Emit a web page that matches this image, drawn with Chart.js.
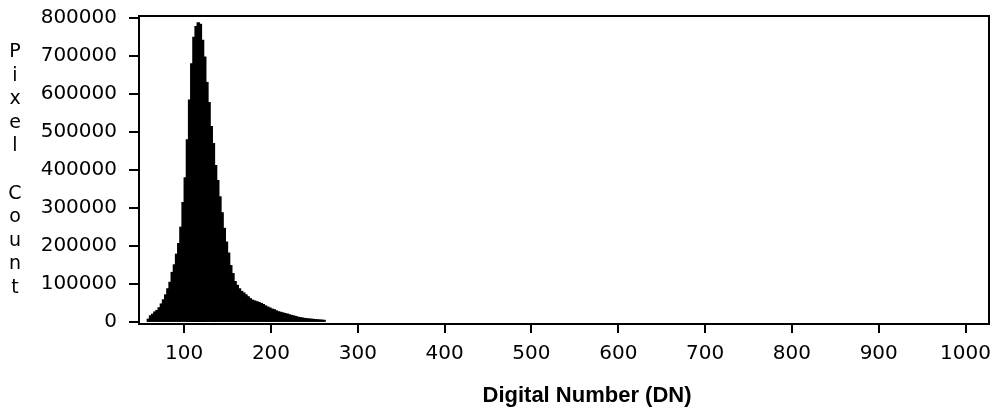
<!DOCTYPE html>
<html>
<head>
<meta charset="utf-8">
<script src="https://cdn.jsdelivr.net/npm/chart.js@4.4.1/dist/chart.umd.min.js"></script>
<style>
  html, body { margin: 0; padding: 0; background: #fff; }
  #wrap { position: relative; width: 1000px; height: 410px; }
  #c { position: absolute; left: 0; top: 0; }
  .ytitle { position: absolute; left: 4px; top: 39px; width: 22px; text-align: center;
            font: 19px "DejaVu Sans", sans-serif; line-height: 23.6px; color: #000; }
  .xtitle { position: absolute; left: 387px; top: 382px; width: 400px; text-align: center;
            font: bold 22px "Liberation Sans", Arial, sans-serif; line-height: 26px; color: #000; }
</style>
</head>
<body>
<div id="wrap">
  <canvas id="c" width="1000" height="410"></canvas>
  <div class="ytitle">P<br>i<br>x<br>e<br>l<br>&nbsp;<br>C<br>o<br>u<br>n<br>t</div>
  <div class="xtitle">Digital Number (DN)</div>
</div>
<script>
// ---- data ----
const binCenter = [58.75, 61.25, 63.75, 66.25, 68.75, 71.25, 73.75, 76.25, 78.75, 81.25,
  83.75, 86.25, 88.75, 91.25, 93.75, 96.25, 98.75, 101.25, 103.75, 106.25,
  108.75, 111.25, 113.75, 116.25, 118.75, 121.25, 123.75, 126.25, 128.75, 131.25,
  133.75, 136.25, 138.75, 141.25, 143.75, 146.25, 148.75, 151.25, 153.75, 156.25,
  158.75, 161.25, 163.75, 166.25, 168.75, 171.25, 173.75, 176.25, 178.75, 181.25,
  183.75, 186.25, 188.75, 191.25, 193.75, 196.25, 198.75, 201.25, 203.75, 206.25,
  208.75, 211.25, 213.75, 216.25, 218.75, 221.25, 223.75, 226.25, 228.75, 231.25,
  233.75, 236.25, 238.75, 241.25, 243.75, 246.25, 248.75, 251.25, 253.75, 256.25,
  258.75, 261.25];
const pixelCount = [8000, 17000, 21000, 27000, 31000, 38000, 48000, 59000, 72000, 88000,
  105000, 131000, 151000, 179000, 207000, 250000, 315000, 380000, 480000, 585000,
  680000, 750000, 778000, 788000, 784000, 742000, 698000, 631000, 578000, 515000,
  470000, 412000, 373000, 330000, 288000, 247000, 211000, 182000, 149000, 128000,
  107000, 97000, 88000, 81000, 77000, 72000, 67000, 62000, 58000, 56000,
  54000, 52000, 49500, 46500, 43000, 40000, 37500, 34500, 33000, 30000,
  27500, 26000, 24500, 22800, 21500, 19500, 17800, 16500, 15000, 13000,
  12000, 11000, 10000, 9200, 8700, 8000, 7500, 7000, 6500, 6000,
  5500, 5000];
const xTicks = [100, 200, 300, 400, 500, 600, 700, 800, 900, 1000];
const yTicks = [0, 100000, 200000, 300000, 400000, 500000, 600000, 700000, 800000];

const histData = binCenter.map((x, i) => ({ x: x, y: pixelCount[i] }));

const frame = {
  id: 'frame',
  afterDraw(chart) {
    const { ctx, chartArea: a } = chart;
    ctx.save();
    ctx.strokeStyle = '#000';
    ctx.lineWidth = 2;
    ctx.strokeRect(a.left, a.top, a.right - a.left, a.bottom - a.top);
    ctx.restore();
  }
};

const tickFont = { family: '"DejaVu Sans", sans-serif', size: 20 };

new Chart(document.getElementById('c'), {
  type: 'bar',
  data: {
    datasets: [{
      data: histData,
      backgroundColor: '#000',
      borderWidth: 0,
      barPercentage: 1,
      categoryPercentage: 1,
      inflateAmount: 0.6
    }]
  },
  options: {
    responsive: false,
    animation: false,
    devicePixelRatio: 1,
    layout: { padding: { top: 16, right: 11, left: 0, bottom: 0 } },
    plugins: { legend: { display: false }, tooltip: { enabled: false } },
    scales: {
      x: {
        type: 'linear',
        offset: false,
        min: 48,
        max: 1027,
        afterBuildTicks: s => { s.ticks = xTicks.map(v => ({ value: v })); },
        afterFit: s => { s.height = 86; s.paddingLeft = 0; s.paddingRight = 0; },
        ticks: { color: '#000', font: tickFont, padding: 9, maxRotation: 0, autoSkip: false,
                 callback: v => String(v) },
        grid: { drawOnChartArea: false, drawTicks: true, tickLength: 9, color: '#000', lineWidth: 2, offset: false },
        border: { display: true, color: '#000', width: 2 }
      },
      y: {
        type: 'linear',
        min: -4500,
        max: 806000,
        afterBuildTicks: s => { s.ticks = yTicks.map(v => ({ value: v })); },
        afterFit: s => { s.width = 139; s.paddingTop = 0; s.paddingBottom = 0; },
        ticks: { color: '#000', font: tickFont, padding: 12, callback: v => String(v) },
        grid: { drawOnChartArea: false, drawTicks: true, tickLength: 10, color: '#000', lineWidth: 2 },
        border: { display: true, color: '#000', width: 2 }
      }
    }
  },
  plugins: [frame]
});
</script>
</body>
</html>
